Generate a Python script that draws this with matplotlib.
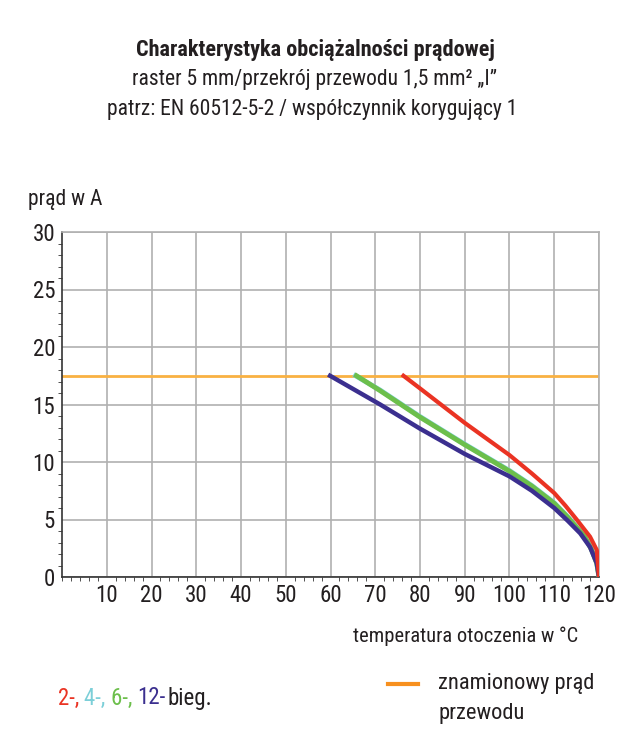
import matplotlib
matplotlib.use("Agg")
import matplotlib.pyplot as plt
from matplotlib.ticker import MultipleLocator

FONT = ['Roboto Condensed', 'Roboto', 'DejaVu Sans']
plt.rcParams['font.family'] = FONT

# data
rated_current = 17.5
temp_red = [76.3, 80, 90, 100, 105, 110, 112.5, 115, 118, 119.5, 120]
amp_red = [17.5, 16.4, 13.4, 10.6, 9.0, 7.3, 6.2, 5.0, 3.5, 2.35, 0]
temp_cyan = [65.6, 71.1, 80, 90, 100, 105, 110, 113, 116.8, 118.3, 119.5, 120]
amp_cyan = [17.5, 16.25, 13.95, 11.55, 9.25, 7.95, 6.45, 5.25, 3.55, 2.45, 1.2, 0]
temp_green = [65.8, 71.1, 80, 90, 100, 105, 110, 113, 116.8, 118.3, 119.5, 120]
amp_green = [17.5, 16.2, 13.9, 11.5, 9.2, 7.9, 6.4, 5.2, 3.5, 2.4, 1.2, 0]
temp_blue = [59.9, 71.1, 80, 90, 100, 105, 110, 113, 115.8, 118, 119.5, 120]
amp_blue = [17.5, 15.0, 12.9, 10.7, 8.75, 7.5, 6.0, 4.9, 3.8, 2.6, 1.2, 0]

RED = '#ea3323'
CYAN = '#7ccfd8'
GREEN = '#6cbf4b'
BLUE = '#3b2f8f'
ORANGE = '#f9b142'
TXT = '#231f20'

fig = plt.figure(figsize=(6.31, 7.4), dpi=100)
ax = fig.add_axes([62 / 631, 1 - 577 / 740, 537 / 631, 345 / 740])

ax.axhline(rated_current, color=ORANGE, lw=2, zorder=2)
ax.plot(temp_cyan, amp_cyan, color=CYAN, lw=3.5, zorder=3, solid_joinstyle='round')
ax.plot(temp_green, amp_green, color=GREEN, lw=3.5, zorder=4, solid_joinstyle='round')
ax.plot(temp_blue, amp_blue, color=BLUE, lw=3.2, zorder=5, solid_joinstyle='round')
ax.plot(temp_red, amp_red, color=RED, lw=3, zorder=6, solid_joinstyle='round')

ax.set_xlim(0, 120)
ax.set_ylim(0, 30)
ax.xaxis.set_minor_locator(MultipleLocator(2))
ax.yaxis.set_major_locator(MultipleLocator(5))
ax.yaxis.set_minor_locator(MultipleLocator(1))
ax.set_xticks(range(10, 121, 10))
ax.grid(True, which='major', color='#b0b0b0', lw=1.2)
ax.set_axisbelow(True)
for s in ['top', 'right']:
    ax.spines[s].set_color('#b0b0b0')
    ax.spines[s].set_linewidth(1.2)
for s in ['left', 'bottom']:
    ax.spines[s].set_color('#333333')
    ax.spines[s].set_linewidth(1.2)
ax.tick_params(which='major', length=0, labelsize=16.5, labelcolor=TXT, pad=5)
ax.tick_params(which='minor', length=3, color='#333333', direction='out')

fig.text(315 / 631, 1 - 50 / 740, 'Charakterystyka obciążalności prądowej', ha='center', va='center',
         fontsize=16, fontweight='bold', color=TXT)
fig.text(315 / 631, 1 - 80 / 740, 'raster 5 mm/przekrój przewodu 1,5 mm² „I”', ha='center', va='center',
         fontsize=15.5, color=TXT)
fig.text(312 / 631, 1 - 110 / 740, 'patrz: EN 60512-5-2 / współczynnik korygujący 1', ha='center', va='center',
         fontsize=15.5, color=TXT)
fig.text(28 / 631, 1 - 200 / 740, 'prąd w A', ha='left', va='center', fontsize=15.5, color=TXT)
fig.text(578 / 631, 1 - 636 / 740, 'temperatura otoczenia w °C', ha='right', va='center', fontsize=14.8, color=TXT)

# multi-coloured legend text
pieces = [('2-, ', RED), ('4-, ', CYAN), ('6-, ', GREEN), ('12-', BLUE), ('bieg.', TXT)]
fig.canvas.draw()
r = fig.canvas.get_renderer()
x = 58
for s, c in pieces:
    t = fig.text(x / 631, 1 - 698 / 740, s, ha='left', va='center', fontsize=16.5, color=c)
    x += t.get_window_extent(r).width
    if s == '12-':
        x += 2

fig.add_artist(plt.Line2D([388 / 631, 418 / 631], [1 - 684 / 740] * 2, color='#f7901e', lw=3))
fig.text(438 / 631, 1 - 684 / 740, 'znamionowy prąd', ha='left', va='center', fontsize=16.2, color=TXT)
fig.text(438 / 631, 1 - 714 / 740, 'przewodu', ha='left', va='center', fontsize=16.2, color=TXT)

fig.savefig('out.png', dpi=100)
